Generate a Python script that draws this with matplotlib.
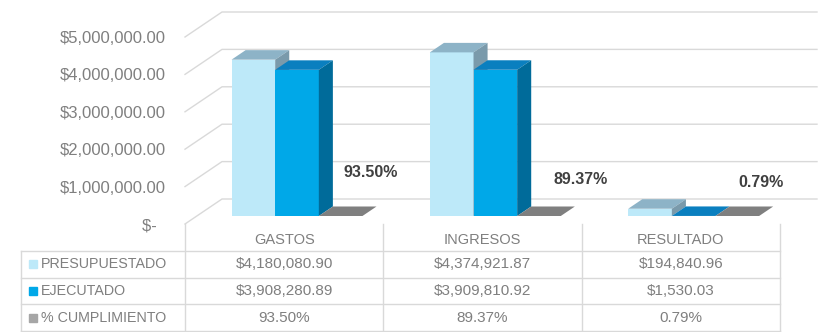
import numpy as np
import matplotlib
matplotlib.use("Agg")
import matplotlib.pyplot as plt
from matplotlib.patches import Polygon
from matplotlib.ticker import FuncFormatter

categories = ["GASTOS", "INGRESOS", "RESULTADO"]
series_names = ["PRESUPUESTADO", "EJECUTADO", "% CUMPLIMIENTO"]
presupuestado = [4180080.90, 4374921.87, 194840.96]
ejecutado = [3908280.89, 3909810.92, 1530.03]
cumplimiento = [93.50, 89.37, 0.79]

# face colours (front, top, side) per series
face_colors = [
    ("#bde9f9", "#8db3c7", "#7a9aab"),
    ("#00a8e8", "#0a7fbf", "#006b9a"),
    ("#a0a0a0", "#7f7f7f", "#6b6b6b"),
]
key_colors = ["#bde9f9", "#00a8e8", "#a6a6a6"]
grid_color = "#d9d9d9"
text_gray = "#7f7f7f"

plt.rcParams["font.family"] = ["Liberation Sans", "DejaVu Sans"]

W, H = 827, 332
fig = plt.figure(figsize=(W / 100, H / 100), dpi=100)

# pixel geometry of the front plane
x0_px, x1_px = 185, 780
y0_px, y5_px = 224, 37
unit_px = (x1_px - x0_px) / 3.0
ymax = 5e6
px_per_val = (y0_px - y5_px) / ymax

ax = fig.add_axes([x0_px / W, 1 - y0_px / H, (x1_px - x0_px) / W,
                   (y0_px - y5_px) / H])
ax.set_xlim(0, 3)
ax.set_ylim(0, ymax)
for s in ax.spines.values():
    s.set_visible(False)
ax.set_xticks([])
ax.set_yticks(np.arange(0, ymax + 1, 1e6))
ax.yaxis.set_major_formatter(FuncFormatter(
    lambda v, p: "$-  " if v == 0 else "${:,.2f}".format(v)))
ax.tick_params(axis="y", length=0, pad=14, labelsize=12,
               labelcolor=text_gray)

# oblique depth of the wall in data units
DX = 37 / unit_px
DY = 25 / px_per_val


def proj(x, v, d):
    return (x + d * DX, v + d * DY)


# walls: left-side diagonals + back wall gridlines
for v in np.arange(0, ymax + 1, 1e6):
    bx, by = proj(0, v, 1)
    ax.plot([0, bx, 3 + DX], [v, by, by], color=grid_color, lw=1,
            clip_on=False, zorder=1)

# bars
f0, f1 = 0.32, 0.70
bar_w = 0.22
bar_start = 0.175
values = [presupuestado, ejecutado, cumplimiento]
label_offsets = [(22, 31), (30, 26), (17, 24)]
for i in range(len(categories)):
    for k, vals in enumerate(values):
        v = vals[i]
        xl = i + bar_start + k * bar_w
        xr = xl + bar_w
        front, top, side = face_colors[k]
        faces = [
            ([proj(xl, 0, f0), proj(xr, 0, f0), proj(xr, v, f0),
              proj(xl, v, f0)], front),
            ([proj(xl, v, f0), proj(xr, v, f0), proj(xr, v, f1),
              proj(xl, v, f1)], top),
            ([proj(xr, 0, f0), proj(xr, 0, f1), proj(xr, v, f1),
              proj(xr, v, f0)], side),
        ]
        for pts, c in faces:
            ax.add_patch(Polygon(pts, closed=True, facecolor=c,
                                 edgecolor="none", clip_on=False,
                                 zorder=3))
    # percentage label above the gray bar
    xc = i + bar_start + 2.5 * bar_w
    ax.annotate("{:.2f}%".format(cumplimiento[i]), xy=proj(xc, 0, f0),
                xytext=label_offsets[i], textcoords="offset points",
                ha="center", va="center", fontsize=11.5,
                fontweight="bold", color="#404040", zorder=5)

# data table below the chart
tl_px, tb_px = 21, 331
tax = fig.add_axes([tl_px / W, 1 - tb_px / H, (x1_px - tl_px) / W,
                    (tb_px - y0_px) / H])
xleft = -(x0_px - tl_px) / unit_px
tax.set_xlim(xleft, 3)
tax.set_ylim(0, 4)
tax.axis("off")

line_kw = dict(color=grid_color, lw=1, clip_on=False)
for r in range(4):
    tax.plot([xleft, 3], [r, r], **line_kw)
tax.plot([xleft, xleft], [0, 3], **line_kw)
for c in range(4):
    tax.plot([c, c], [0, 4], **line_kw)

fs = 11
for i, cat in enumerate(categories):
    tax.text(i + 0.5, 3.4, cat, ha="center", va="center", fontsize=10.5,
             color=text_gray)
    tax.text(i + 0.5, 2.5, "${:,.2f}".format(presupuestado[i]),
             ha="center", va="center", fontsize=fs, color=text_gray)
    tax.text(i + 0.5, 1.5, "${:,.2f}".format(ejecutado[i]),
             ha="center", va="center", fontsize=fs, color=text_gray)
    tax.text(i + 0.5, 0.5, "{:.2f}%".format(cumplimiento[i]),
             ha="center", va="center", fontsize=fs, color=text_gray)

for r, name in enumerate(series_names):
    yr = 2.5 - r
    tax.plot([xleft + 12 / unit_px], [yr], marker="s", ms=5.8,
             color=key_colors[r], clip_on=False)
    tax.text(xleft + 20 / unit_px, yr, name, ha="left", va="center",
             fontsize=10.3, color=text_gray)

fig.savefig("out.png", dpi=100, facecolor="white")
